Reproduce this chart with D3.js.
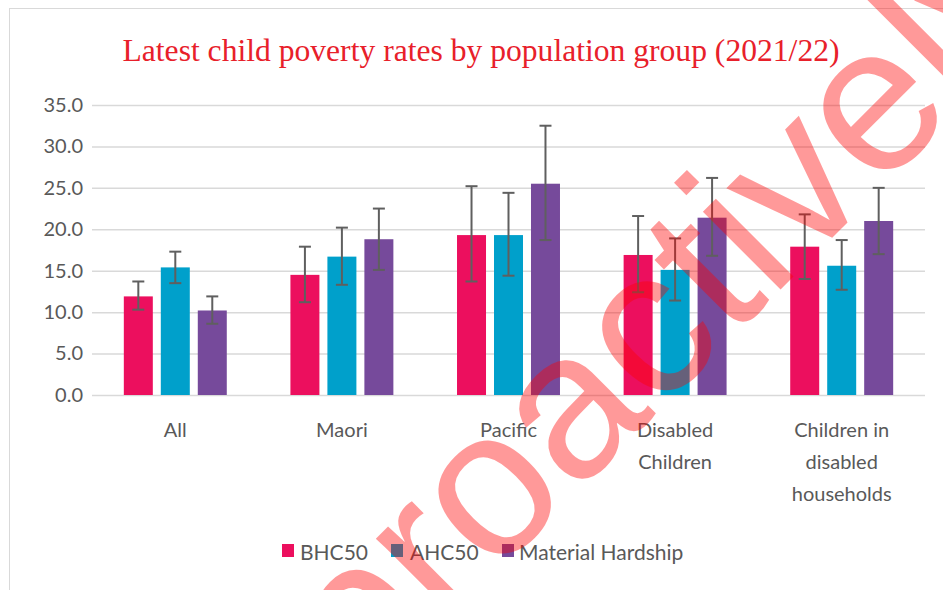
<!DOCTYPE html>
<html><head><meta charset="utf-8">
<script src="https://cdn.jsdelivr.net/npm/d3@7"></script>
<style>html,body{margin:0;padding:0;background:#fff;overflow:hidden}</style>
</head><body><svg id="c" width="943" height="590"></svg>
<script>
const categories = ["All","Maori","Pacific","Disabled Children","Children in disabled households"];
const categoryLines = [["All"],["Maori"],["Pacific"],["Disabled","Children"],["Children in","disabled","households"]];
const seriesNames = ["BHC50","AHC50","Material Hardship"];
const seriesColors = ["#EC0F5E","#00A0CB","#764A9B"];
const bhc = [11.9, 14.5, 19.3, 16.9, 17.9];
const bhcLow = [10.3, 11.2, 13.7, 12.4, 14.0];
const bhcHigh = [13.7, 17.9, 25.2, 21.6, 21.8];
const ahc = [15.4, 16.7, 19.3, 15.1, 15.6];
const ahcLow = [13.5, 13.3, 14.4, 11.4, 12.7];
const ahcHigh = [17.3, 20.2, 24.4, 18.9, 18.7];
const mh = [10.2, 18.8, 25.5, 21.4, 21.0];
const mhLow = [8.6, 15.1, 18.7, 16.8, 17.0];
const mhHigh = [11.9, 22.5, 32.5, 26.2, 25.0];
const yTicks = [0,5,10,15,20,25,30,35];
const title = "Latest child poverty rates by population group (2021/22)";
const watermark = "proactively";

const values = [bhc, ahc, mh], lows = [bhcLow, ahcLow, mhLow], highs = [bhcHigh, ahcHigh, mhHigh];
const rows = [];
categories.forEach((c,i)=>seriesNames.forEach((s,j)=>rows.push({c, s, v:values[j][i], lo:lows[j][i], hi:highs[j][i], color:seriesColors[j]})));

const svg = d3.select("#c");
svg.append("rect").attr("x",9.5).attr("y",8.5).attr("width",1000).attr("height",1000).attr("fill","#fff").attr("stroke","#d9d9d9");

const x0 = d3.scaleBand().domain(categories).range([92,925]).paddingInner(0.382).paddingOuter(0.191);
const x1 = d3.scaleBand().domain(seriesNames).range([0,x0.bandwidth()]).paddingInner(0.216);
const y = d3.scaleLinear().domain([0,35]).range([395,105]);

// gridlines + y labels
const yAxis = d3.axisLeft(y).tickValues(yTicks).tickFormat(d3.format(".1f")).tickSize(-(925-92)).tickPadding(10);
const ga = svg.append("g").attr("transform","translate(92,0)").call(yAxis);
ga.select(".domain").remove();
ga.selectAll(".tick line").attr("stroke","#d9d9d9").attr("stroke-width",1.5);
ga.selectAll(".tick text").attr("fill","#595959").style("font-family","Lato, sans-serif").style("font-size","20px").attr("x",-9);

// bars
svg.append("g").selectAll("rect").data(rows).join("rect")
  .attr("x",d=>x0(d.c)+x1(d.s)).attr("width",x1.bandwidth())
  .attr("y",d=>y(d.v)).attr("height",d=>y(0)-y(d.v)).attr("fill",d=>d.color);

// error bars
const eg = svg.append("g").attr("stroke","#5f5f5f").attr("stroke-width",2);
rows.forEach(d=>{
  const cx = x0(d.c)+x1(d.s)+x1.bandwidth()/2;
  eg.append("line").attr("x1",cx).attr("x2",cx).attr("y1",y(d.hi)).attr("y2",y(d.lo));
  eg.append("line").attr("x1",cx-6).attr("x2",cx+6).attr("y1",y(d.hi)).attr("y2",y(d.hi));
  eg.append("line").attr("x1",cx-6).attr("x2",cx+6).attr("y1",y(d.lo)).attr("y2",y(d.lo));
});

// category labels
const xAxis = d3.axisBottom(x0).tickSize(0).tickFormat("");
const gx = svg.append("g").attr("transform","translate(0,395)").call(xAxis);
gx.select(".domain").remove();
gx.selectAll(".tick").each(function(d,i){
  const t = d3.select(this).append("text").attr("fill","#595959").attr("text-anchor","middle")
    .style("font-family","Lato, sans-serif").style("font-size","20px");
  categoryLines[i].forEach((ln,k)=>t.append("tspan").attr("x",0).attr("y",42+32*k).text(ln));
});

// title
svg.append("text").attr("x",481).attr("y",61).attr("text-anchor","middle")
  .attr("fill","#E8202A").style("font-family","'Liberation Serif', serif").style("font-size","32px")
  .attr("textLength",717).attr("lengthAdjust","spacingAndGlyphs").text(title);

// legend
const legX = [282, 391, 502];
const legTextX = [300, 410, 519];
const lg = svg.append("g");
seriesNames.forEach((s,j)=>{
  lg.append("rect").attr("x",legX[j]).attr("y",544).attr("width",12).attr("height",13).attr("fill",seriesColors[j]);
  lg.append("text").attr("x",legTextX[j]).attr("y",560).attr("fill","#595959")
    .style("font-family","Lato, sans-serif").style("font-size","21px").text(s);
});

// watermark
svg.append("text").attr("transform","translate(362,708) rotate(-45)")
  .attr("fill","#ff0000").attr("fill-opacity",0.4)
  .style("font-family","'Liberation Sans', Arial, sans-serif").style("font-size","208px").text(watermark);
</script></body></html>
